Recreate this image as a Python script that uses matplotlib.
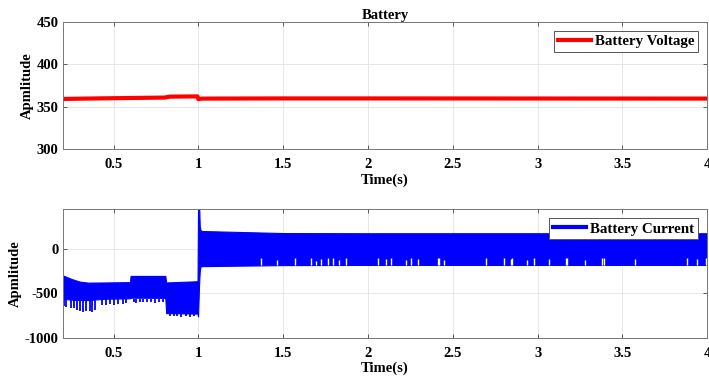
import numpy as np
import matplotlib
matplotlib.use("Agg")
import matplotlib.pyplot as plt

plt.rcParams["font.family"] = ["Liberation Serif", "DejaVu Serif"]
plt.rcParams["font.weight"] = "bold"
plt.rcParams["axes.unicode_minus"] = False

# Battery voltage (breakpoints)
volt_t = [0.2, 0.4, 0.6, 0.8, 0.83, 0.995, 1.0, 1.02, 1.5, 2.0, 3.0, 4.0]
volt_v = [359.2, 359.8, 360.3, 360.8, 361.9, 362.2, 359.0, 359.6, 359.8, 359.8, 359.7, 359.6]

# Battery current envelope (upper / lower edge of the oscillation band)
cur_t = [0.2, 0.25, 0.3, 0.35, 0.45, 0.597, 0.6, 0.805, 0.81, 0.995, 0.998, 1.004, 1.008,
         1.012, 1.02, 1.5, 2.0, 3.0, 4.0]
cur_hi = [-295, -335, -366, -378, -376, -372, -302, -302, -376, -362, 520, 520, 260,
          218, 205, 182, 180, 180, 180]
cur_lo = [-560, -570, -575, -575, -560, -555, -548, -550, -722, -728, -760, -400, -250,
          -198, -192, -180, -178, -178, -178]

# downward spikes before t = 1 s
dip_t = [0.205, 0.222, 0.25, 0.265, 0.285, 0.305, 0.32, 0.338, 0.36, 0.375, 0.39,
         0.43, 0.455, 0.48, 0.50, 0.525, 0.555, 0.575,
         0.62, 0.635, 0.655, 0.675, 0.70, 0.72, 0.745, 0.77, 0.79,
         0.83, 0.855, 0.875, 0.9, 0.925, 0.95, 0.975]
dip_lo = [-640, -650, -660, -665, -690, -700, -705, -695, -700, -705, -690,
          -630, -625, -620, -630, -615, -620, -610,
          -600, -605, -600, -598, -602, -600, -605, -600, -598,
          -755, -760, -758, -765, -760, -762, -758]
dip_base = [-560] * 27 + [-722] * 7

# short upward gaps in the lower edge after t = 1 s
notch_t = [1.37, 1.462, 1.567, 1.665, 1.694, 1.724, 1.762, 1.792, 1.831, 1.871,
           2.057, 2.106, 2.135, 2.224, 2.253, 2.292, 2.41, 2.42, 2.449, 2.694,
           2.802, 2.841, 2.851, 2.939, 2.979, 3.067, 3.165, 3.174, 3.282, 3.38,
           3.39, 3.576, 3.88, 3.939, 3.99]
notch_hi = [-100, -120, -100, -100, -130, -110, -100, -95, -120, -100,
            -100, -110, -100, -120, -100, -110, -100, -95, -120, -100,
            -100, -110, -95, -120, -100, -110, -100, -95, -120, -100,
            -95, -110, -100, -110, -100]

fig = plt.figure(figsize=(7.09, 3.81), dpi=100)
ax1 = fig.add_axes([0.0884, 0.6081, 0.9092, 0.335])
ax2 = fig.add_axes([0.0884, 0.1136, 0.9092, 0.337])

ax1.plot(volt_t, volt_v, color="red", lw=3, label="Battery Voltage")
ax1.set_xlim(0.2, 4)
ax1.set_ylim(300, 450)
ax1.set_yticks([300, 350, 400, 450])
ax1.set_title("Battery", fontsize=10.5, fontweight="bold", pad=2)

ax2.fill_between(cur_t, cur_lo, cur_hi, color="blue", lw=0.8, edgecolor="blue")
ax2.vlines(dip_t, dip_lo, dip_base, color="blue", lw=1.3)
ax2.vlines(notch_t, [-182] * len(notch_t), notch_hi, color="white", lw=1.0)
ax2.plot([], [], color="blue", lw=3, label="Battery Current")
ax2.set_xlim(0.2, 4)
ax2.set_ylim(-1000, 450)
ax2.set_yticks([-1000, -500, 0])

for ax in (ax1, ax2):
    ax.set_xticks([0.5, 1, 1.5, 2, 2.5, 3, 3.5, 4])
    ax.set_xticklabels(["0.5", "1", "1.5", "2", "2.5", "3", "3.5", "4"])
    ax.grid(True, color="#e3e3e3", lw=0.6)
    ax.set_axisbelow(True)
    ax.tick_params(direction="in", top=True, right=True, labelsize=10.5,
                   length=3, width=0.6, color="#444444")
    ax.tick_params(axis="x", pad=6.5)
    ax.tick_params(axis="y", pad=3)
    for s in ax.spines.values():
        s.set_color("#777777")
        s.set_linewidth(0.7)
    ax.set_xlabel("Time(s)", fontsize=10.5, fontweight="bold", labelpad=1.5)
    ax.set_ylabel("Apmlitude", fontsize=10.5, fontweight="bold", labelpad=2)
    leg = ax.legend(loc="upper right", fontsize=10.8, fancybox=False, framealpha=1,
                    edgecolor="#555555", handlelength=2.2, handletextpad=0.3,
                    borderpad=0.25, borderaxespad=0.6)
    leg.get_frame().set_linewidth(0.7)

fig.savefig("out.png", dpi=100)
